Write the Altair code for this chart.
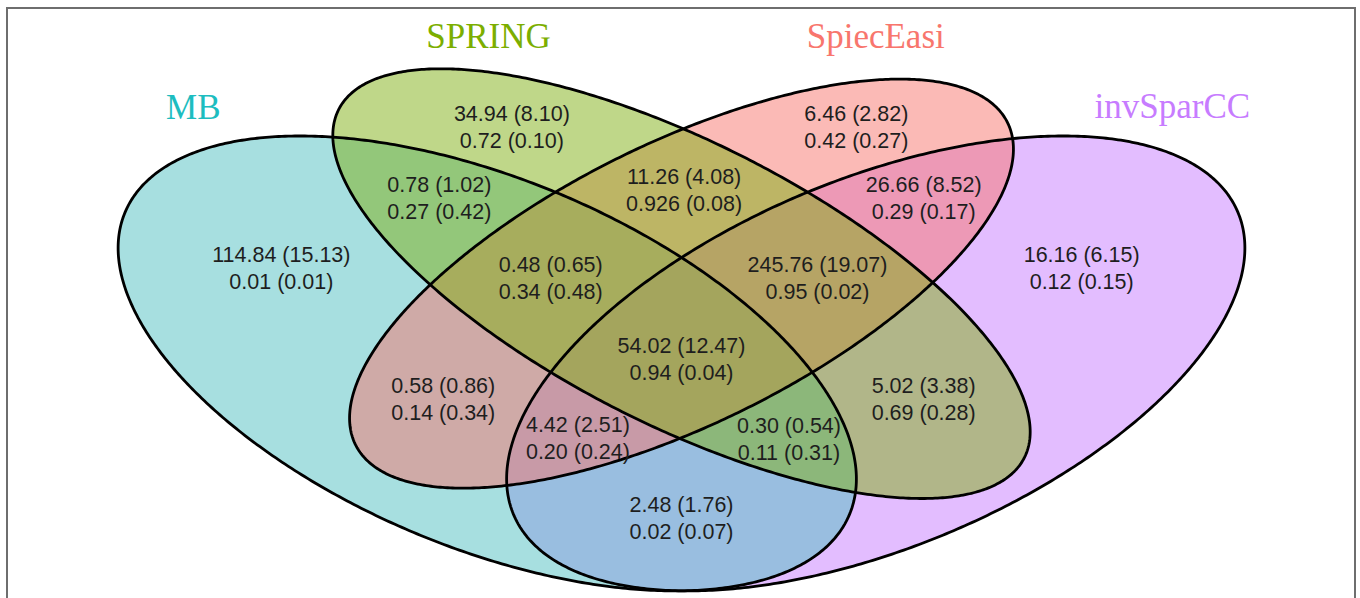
import numpy as np
import pandas as pd
import altair as alt

# ---- sets -------------------------------------------------------------
sets = ["MB", "SPRING", "SpiecEasi", "invSparCC"]
set_fill = ["#4FBFC2", "#80B014", "#F8766D", "#C77CFF"]
set_title_color = ["#1DBDC0", "#7CAE00", "#F8766D", "#C77CFF"]
# fills are painted bottom-to-top in this order
fill_order = ["invSparCC", "MB", "SpiecEasi", "SPRING"]

# ---- region values: mean edges (sd) and mean share (sd) ---------------
regions = [
    "MB", "SPRING", "SpiecEasi", "invSparCC",
    "MB&SPRING", "SPRING&SpiecEasi", "SpiecEasi&invSparCC",
    "MB&SPRING&SpiecEasi", "SPRING&SpiecEasi&invSparCC", "all",
    "MB&SpiecEasi", "SPRING&invSparCC",
    "MB&SpiecEasi&invSparCC", "MB&SPRING&invSparCC", "MB&invSparCC",
]
edge_count = [
    "114.84 (15.13)", "34.94 (8.10)", "6.46 (2.82)", "16.16 (6.15)",
    "0.78 (1.02)", "11.26 (4.08)", "26.66 (8.52)",
    "0.48 (0.65)", "245.76 (19.07)", "54.02 (12.47)",
    "0.58 (0.86)", "5.02 (3.38)",
    "4.42 (2.51)", "0.30 (0.54)", "2.48 (1.76)",
]
edge_share = [
    "0.01 (0.01)", "0.72 (0.10)", "0.42 (0.27)", "0.12 (0.15)",
    "0.27 (0.42)", "0.926 (0.08)", "0.29 (0.17)",
    "0.34 (0.48)", "0.95 (0.02)", "0.94 (0.04)",
    "0.14 (0.34)", "0.69 (0.28)",
    "0.20 (0.24)", "0.11 (0.31)", "0.02 (0.07)",
]

# ---- layout in the unit square (four-ellipse Venn) --------------------
ell_cx = [0.35, 0.50, 0.50, 0.65]
ell_cy = [0.47, 0.57, 0.57, 0.47]
ell_a = [0.35, 0.35, 0.33, 0.35]
ell_b = [0.20, 0.15, 0.15, 0.20]
ell_rot = [135, 135, 45, 45]

label_u = [0.191, 0.369, 0.635, 0.809, 0.313, 0.502, 0.687,
           0.399, 0.605, 0.500, 0.316, 0.687, 0.420, 0.583, 0.500]
label_v = [0.588, 0.764, 0.764, 0.588, 0.676, 0.686, 0.676,
           0.575, 0.575, 0.474, 0.423, 0.423, 0.375, 0.374, 0.274]

title_u = [0.123, 0.351, 0.650, 0.879]
title_v = [0.776, 0.865, 0.865, 0.778]

X_DOMAIN = [-0.02626, 1.02394]
Y_DOMAIN = [0.17607, 0.92544]

xs = alt.Scale(domain=X_DOMAIN, nice=False, zero=False)
ys = alt.Scale(domain=Y_DOMAIN, nice=False, zero=False)


def ellipse_band(cx, cy, a, b, rot, n=500):
    """Lower/upper boundary of a rotated ellipse for an area mark."""
    th = np.deg2rad(rot)
    c, s = np.cos(th), np.sin(th)
    hw = np.sqrt(a**2 * c**2 + b**2 * s**2)
    dx = hw * np.cos(np.linspace(np.pi, 0, n))
    A = s**2 / a**2 + c**2 / b**2
    B = 2 * dx * c * s * (1 / a**2 - 1 / b**2)
    C = dx**2 * (c**2 / a**2 + s**2 / b**2) - 1
    disc = np.sqrt(np.clip(B**2 - 4 * A * C, 0, None))
    lo = (-B - disc) / (2 * A)
    hi = (-B + disc) / (2 * A)
    return pd.DataFrame({"x": cx + dx, "y": cy + lo, "y2": cy + hi})


def ellipse_ring(name, cx, cy, a, b, rot, n=600):
    th = np.deg2rad(rot)
    c, s = np.cos(th), np.sin(th)
    t = np.linspace(0, 2 * np.pi, n)
    return pd.DataFrame({
        "set": name,
        "i": np.arange(n),
        "x": cx + a * c * np.cos(t) - b * s * np.sin(t),
        "y": cy + a * s * np.cos(t) + b * c * np.sin(t),
    })


layers = []

# frame around the figure
frame = alt.Chart(pd.DataFrame({"k": [0]})).mark_rect(
    fillOpacity=0, stroke="#6e6e6e", strokeWidth=2
).encode(
    x=alt.value(7), x2=alt.value(1355), y=alt.value(8), y2=alt.value(700)
)
layers.append(frame)

# translucent fills
for name in fill_order:
    k = sets.index(name)
    band = ellipse_band(ell_cx[k], ell_cy[k], ell_a[k], ell_b[k], ell_rot[k])
    layers.append(
        alt.Chart(band).mark_area(color=set_fill[k], fillOpacity=0.5).encode(
            x=alt.X("x:Q", scale=xs, axis=None),
            y=alt.Y("y:Q", scale=ys, axis=None, stack=None),
            y2="y2:Q",
        )
    )

# outlines
rings = pd.concat(
    [ellipse_ring(sets[k], ell_cx[k], ell_cy[k], ell_a[k], ell_b[k], ell_rot[k])
     for k in range(4)],
    ignore_index=True,
)
layers.append(
    alt.Chart(rings).mark_line(color="black", strokeWidth=2.8).encode(
        x=alt.X("x:Q", scale=xs, axis=None),
        y=alt.Y("y:Q", scale=ys, axis=None),
        detail="set:N",
        order="i:Q",
    )
)

# region labels (two lines each)
lab = pd.DataFrame({
    "region": regions, "count": edge_count, "share": edge_share,
    "u": label_u, "v": label_v,
})
text_style = dict(font="Liberation Sans", fontSize=21.5, color="#1e1e1e",
                  align="center", baseline="middle")
for field, dy in (("count", -13.5), ("share", 13.5)):
    layers.append(
        alt.Chart(lab).mark_text(dy=dy, **text_style).encode(
            x=alt.X("u:Q", scale=xs, axis=None),
            y=alt.Y("v:Q", scale=ys, axis=None),
            text=f"{field}:N",
        )
    )

# set names
titles = pd.DataFrame({"set": sets, "u": title_u, "v": title_v})
layers.append(
    alt.Chart(titles).mark_text(
        font="Liberation Serif", fontSize=35, align="center",
        baseline="alphabetic",
    ).encode(
        x=alt.X("u:Q", scale=xs, axis=None),
        y=alt.Y("v:Q", scale=ys, axis=None),
        text="set:N",
        color=alt.Color("set:N",
                        scale=alt.Scale(domain=sets, range=set_title_color),
                        legend=None),
    )
)

chart = alt.layer(*layers).properties(
    width=1360, height=598,
    autosize=alt.AutoSizeParams(type="none"),
    padding=0,
    background="white",
).configure_view(stroke=None)

chart.save("out.html", embed_options={"renderer": "svg", "actions": False})
